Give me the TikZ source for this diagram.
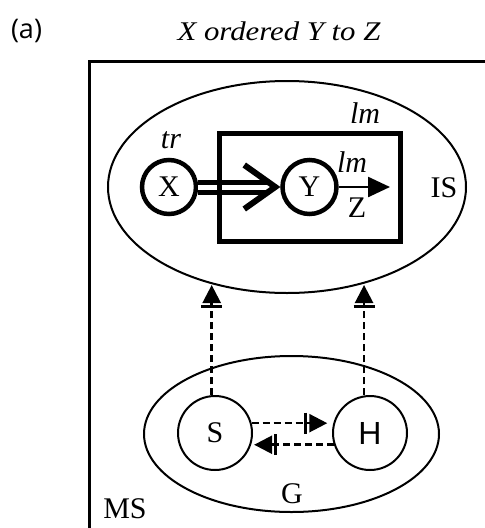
\documentclass[tikz,border=0pt]{standalone}
\usepackage{fontspec}
\setmainfont{Liberation Serif}
\newfontfamily\hsans{Liberation Sans}
\newfontfamily\tagfont{Open Sans}
\newfontfamily\titlefont[FakeStretch=1.14]{Liberation Serif}
\usetikzlibrary{shapes.geometric,arrows.meta,calc}
\begin{document}
\begin{tikzpicture}[x=1pt,y=-1pt,
  lab/.style={font=\fontsize{30}{35}\selectfont, inner sep=0pt, anchor=base},
  ilab/.style={font=\itshape\fontsize{30}{35}\selectfont, inner sep=0pt, anchor=base},
  agent/.style={circle, draw, line width=4.5pt, minimum size=54pt, inner sep=0pt, font=\fontsize{30}{35}\selectfont},
  party/.style={circle, draw, line width=2pt, minimum size=74pt, inner sep=0pt, font=\fontsize{30}{35}\selectfont},
  oval/.style={ellipse, draw, line width=2pt, inner sep=0pt},
  dep/.style={line width=2.5pt, dash pattern=on 7pt off 4pt,
    -{Bar[width=21pt,line width=3pt,sep=2pt]Triangle[length=18pt,width=18pt]}},
]
\useasboundingbox (0,0) rectangle (485,528);
\clip (0,0) rectangle (485,528);
% outer frame (MS)
\draw[line width=3pt] (89.5,61.5) rectangle (530,580);
% captions
\node[font=\tagfont\fontsize{27}{32}\selectfont, inner sep=0pt, anchor=base] (tag) at (26.5,38.5) {(a)};
\node[font=\titlefont\itshape\fontsize{27}{32}\selectfont, inner sep=0pt, anchor=base] (title) at (279,40) {X ordered Y to Z};
% upper ellipse IS
\node[oval, minimum width=358pt, minimum height=212pt] (IS) at (287,187) {};
% agents
\node[agent] (X) at (169,187) {X};
\node[agent] (Y) at (309.5,187) {Y};
% double arrow X => Y
\coordinate (tip) at ($(Y.west)+(-5,0)$);
\draw[line width=5pt, double distance=5pt] (X.east) -- ($(tip)+(-6,0)$);
\draw[line width=6pt, line join=miter] ($(tip)+(-31,-22)$) -- (tip) -- ($(tip)+(-31,22)$);
% box lm
\node[draw, line width=5pt, minimum width=181pt, minimum height=108pt, inner sep=0pt] (box) at (310,187.5) {};
% Y -> Z
\coordinate (Zend) at (390,187);
\draw[line width=2.5pt, -{Triangle[length=22pt,width=20pt]}] (Y.east) -- (Zend);
% labels upper
\node[ilab] (tr) at (171,148) {tr};
\node[ilab] (lmbox) at (365,123) {lm};
\node[ilab] (lmarrow) at (352,172) {lm};
\node[lab] (Z) at (357,217) {Z};
\node[lab] (ISlab) at (444,197) {IS};
% lower ellipse G
\node[oval, minimum width=295pt, minimum height=156pt] (G) at (291.5,434) {};
\node[party] (S) at (215,433) {S};
\node[party, font=\hsans\fontsize{32}{37}\selectfont] (H) at (370,433) {H};
\node[lab] (Glab) at (292,503) {G};
\node[lab] (MS) at (125,518) {MS};
% dashed arrows
\coordinate (isL) at (212,285);
\coordinate (isR) at (364,285);
\draw[dep] (S.95) -- (S.95 |- isL);
\draw[dep] (H.99) -- (H.99 |- isR);
\draw[dep, shorten >=6pt] (S.15) -- (H.165);
\draw[dep, shorten >=3pt] (H.198) -- (S.-18);
\end{tikzpicture}
\end{document}
